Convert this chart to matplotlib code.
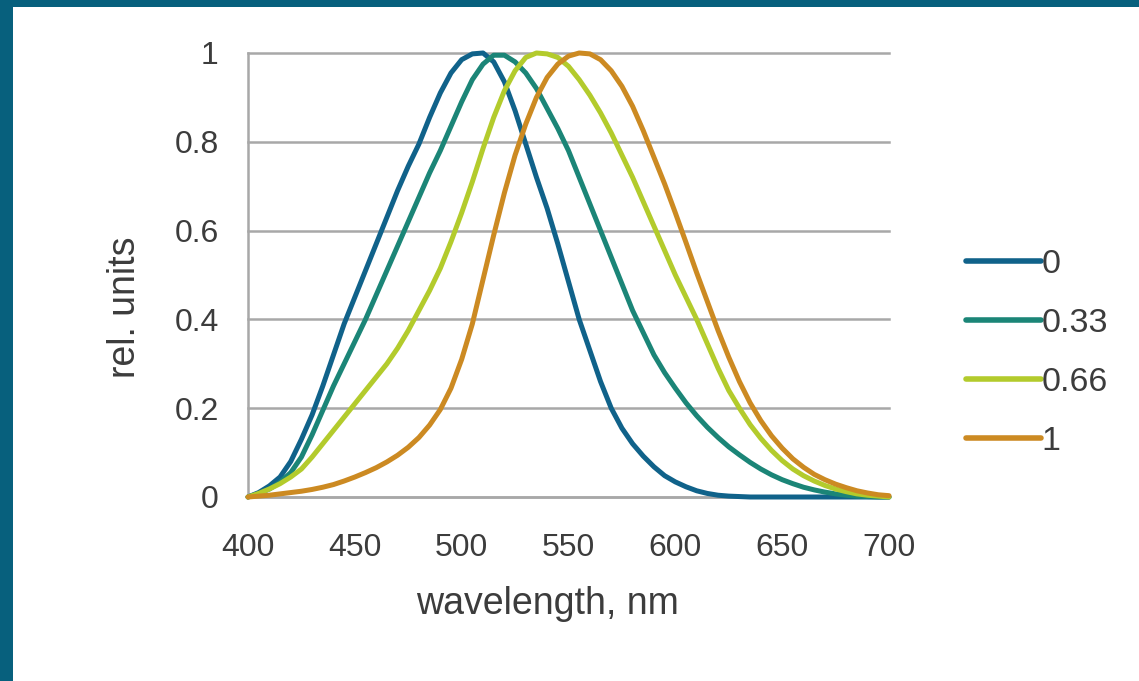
import matplotlib
matplotlib.use("Agg")
import matplotlib.pyplot as plt
from matplotlib.patches import Rectangle

# ---------------- data ----------------
wavelength = [400, 405, 410, 415, 420, 425, 430, 435, 440, 445,
              450, 455, 460, 465, 470, 475, 480, 485, 490, 495,
              500, 505, 510, 515, 520, 525, 530, 535, 540, 545,
              550, 555, 560, 565, 570, 575, 580, 585, 590, 595,
              600, 605, 610, 615, 620, 625, 630, 635, 640, 645,
              650, 655, 660, 665, 670, 675, 680, 685, 690, 695, 700]

series_labels = ["0", "0.33", "0.66", "1"]

s_0 = [0.00, 0.01, 0.025, 0.045, 0.08, 0.13, 0.185, 0.25, 0.32, 0.39,
       0.45, 0.51, 0.57, 0.63, 0.69, 0.745, 0.795, 0.855, 0.91, 0.955,
       0.985, 0.998, 1.00, 0.98, 0.935, 0.87, 0.795, 0.72, 0.65, 0.57,
       0.485, 0.40, 0.33, 0.26, 0.20, 0.155, 0.12, 0.092, 0.068, 0.048,
       0.034, 0.023, 0.014, 0.008, 0.004, 0.002, 0.001, 0.0, 0.0, 0.0,
       0.0, 0.0, 0.0, 0.0, 0.0, 0.0, 0.0, 0.0, 0.0, 0.0, 0.0]

s_033 = [0.00, 0.008, 0.018, 0.033, 0.055, 0.09, 0.14, 0.195, 0.25, 0.30,
         0.35, 0.40, 0.455, 0.51, 0.565, 0.62, 0.675, 0.73, 0.78, 0.835,
         0.89, 0.94, 0.975, 0.995, 0.995, 0.98, 0.955, 0.92, 0.875, 0.83,
         0.78, 0.72, 0.66, 0.60, 0.54, 0.48, 0.42, 0.37, 0.32, 0.28,
         0.245, 0.212, 0.183, 0.157, 0.134, 0.113, 0.095, 0.078, 0.063, 0.05,
         0.039, 0.03, 0.022, 0.016, 0.011, 0.007, 0.004, 0.002, 0.001, 0.0, 0.0]

s_066 = [0.00, 0.008, 0.018, 0.03, 0.045, 0.063, 0.09, 0.12, 0.15, 0.18,
         0.21, 0.24, 0.27, 0.30, 0.335, 0.375, 0.42, 0.465, 0.515, 0.575,
         0.64, 0.71, 0.785, 0.855, 0.915, 0.96, 0.99, 1.00, 0.998, 0.99,
         0.97, 0.94, 0.905, 0.865, 0.82, 0.77, 0.72, 0.665, 0.61, 0.555,
         0.50, 0.45, 0.40, 0.345, 0.29, 0.24, 0.20, 0.163, 0.132, 0.105,
         0.082, 0.063, 0.048, 0.036, 0.026, 0.018, 0.012, 0.007, 0.004, 0.002, 0.0]

s_1 = [0.00, 0.002, 0.004, 0.007, 0.01, 0.013, 0.017, 0.022, 0.028, 0.036,
       0.045, 0.055, 0.066, 0.079, 0.094, 0.112, 0.134, 0.162, 0.197, 0.245,
       0.31, 0.39, 0.49, 0.59, 0.685, 0.77, 0.84, 0.90, 0.945, 0.975,
       0.993, 1.00, 0.998, 0.985, 0.96, 0.925, 0.88, 0.825, 0.765, 0.705,
       0.64, 0.573, 0.505, 0.44, 0.375, 0.315, 0.26, 0.212, 0.172, 0.138,
       0.11, 0.086, 0.067, 0.051, 0.039, 0.029, 0.021, 0.014, 0.009, 0.005, 0.003]

x_ticks = [400, 450, 500, 550, 600, 650, 700]
y_ticks = [0, 0.2, 0.4, 0.6, 0.8, 1]
y_tick_labels = ["0", "0.2", "0.4", "0.6", "0.8", "1"]

colors = ["#10628a", "#1b8577", "#b3cb2c", "#cc8a22"]

# ---------------- figure ----------------
W, H = 1139, 681
fig = plt.figure(figsize=(W / 100, H / 100), dpi=100)
fig.patch.set_facecolor("white")
plt.rcParams["font.family"] = ["Liberation Sans", "DejaVu Sans"]

# dark frame (left and top strips)
fig.patches.append(Rectangle((0, 0), 13 / W, 1, transform=fig.transFigure,
                             facecolor="#07607d", edgecolor="none", zorder=0))
fig.patches.append(Rectangle((0, 1 - 7 / H), 1, 7 / H, transform=fig.transFigure,
                             facecolor="#07607d", edgecolor="none", zorder=0))

left, right = 248 / W, 889 / W
top, bottom = 1 - 53 / H, 1 - 497 / H
ax = fig.add_axes([left, bottom, right - left, top - bottom])

for vals, c, lab in zip([s_0, s_033, s_066, s_1], colors, series_labels):
    ax.plot(wavelength, vals, color=c, lw=3.6, label=lab, clip_on=False,
            solid_capstyle="round", solid_joinstyle="round", zorder=3)

ax.set_xlim(400, 700)
ax.set_ylim(0, 1)
ax.set_xticks(x_ticks)
ax.set_xticklabels([str(t) for t in x_ticks])
ax.set_yticks(y_ticks)
ax.set_yticklabels(y_tick_labels)

grid_c = "#a8a8a8"
ax.yaxis.grid(True, color=grid_c, lw=1.8)
ax.xaxis.grid(False)
for gl in ax.get_ygridlines():
    gl.set_clip_on(False)
ax.set_axisbelow(True)

for s in ["top", "right"]:
    ax.spines[s].set_visible(False)
ax.spines["left"].set_color(grid_c)
ax.spines["left"].set_linewidth(1.8)
ax.spines["bottom"].set_color(grid_c)
ax.spines["bottom"].set_linewidth(1.8)

txt_c = "#3c3c3c"
ax.tick_params(axis="y", length=0, pad=21, labelsize=23, labelcolor=txt_c)
ax.tick_params(axis="x", length=0, pad=26, labelsize=23, labelcolor=txt_c)

ax.set_xlabel("wavelength, nm", fontsize=27, color=txt_c)
ax.xaxis.set_label_coords((547 - 248) / 641, -(586 - 497) / 444)
ax.set_ylabel("rel. units", fontsize=27, color=txt_c)
ax.yaxis.set_label_coords((143 - 248) / 641, (497 - 307) / 444)

leg = fig.legend(loc="center left", bbox_to_anchor=(966 / W, 1 - 353 / H),
                 frameon=False, fontsize=24.5, handlelength=2.2,
                 handletextpad=0.02, labelspacing=0.82, borderpad=0,
                 borderaxespad=0)
for t in leg.get_texts():
    t.set_color(txt_c)
for h in leg.get_lines():
    h.set_linewidth(4.0)
    h.set_solid_capstyle("round")

fig.savefig("out.png", dpi=100, facecolor="white")
